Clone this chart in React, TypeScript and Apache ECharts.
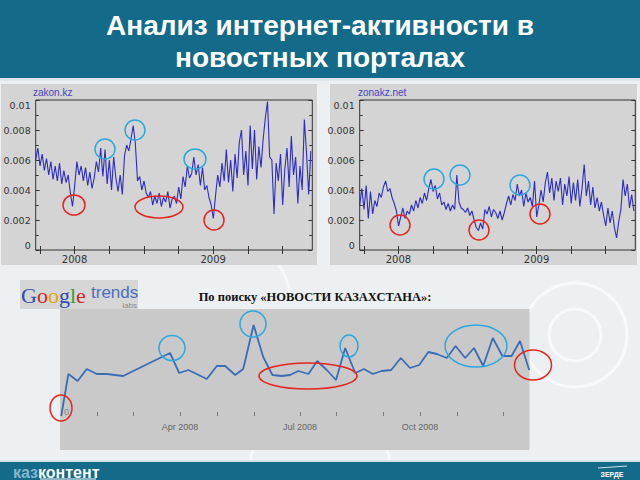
import React, { useEffect, useRef } from 'react';
import * as echarts from 'echarts';

// ---------- texts ----------
const TITLE_LINES = ['Анализ интернет-активности в', 'новостных порталах'];
const SUBTITLE = 'По поиску «НОВОСТИ КАЗАХСТАНА»:';
const SITE_NAMES = ['zakon.kz', 'zonakz.net'];

// ---------- top charts (share of searches, in thousandths) ----------
const YEAR_START = 2007.72;
const YEAR_END = 2009.715;
const SAMPLE_STEP = 1 / 64; // spacing of samples, in years
const YEAR_LABELS = [2008, 2009];
const QUARTER_TICKS = [2007.75, 2008, 2008.25, 2008.5, 2008.75, 2009, 2009.25, 2009.5];

const ZAKON_KZ = [
  6.0, 6.8, 5.6, 6.4, 5.3, 6.1, 5.0, 5.9, 4.7, 5.6,
  4.6, 5.8, 4.4, 5.3, 4.5, 5.0, 3.8, 2.9, 4.3, 5.9,
  5.0, 5.6, 4.6, 5.5, 4.3, 5.2, 4.1, 4.8, 5.9, 5.2,
  6.8, 4.9, 6.7, 4.4, 6.0, 4.0, 6.2, 4.8, 3.9, 5.0,
  3.7, 6.3, 7.0, 6.6, 7.4, 8.3, 7.1, 4.6, 4.9, 4.0,
  4.6, 3.8, 3.5, 3.9, 3.0, 3.6, 3.1, 3.8, 2.9, 3.5,
  3.2, 3.9, 2.8, 3.4, 3.6, 3.1, 4.2, 3.4, 4.9, 4.2,
  5.6, 4.8, 5.1, 6.2, 5.0, 5.7, 4.3, 5.5, 4.0, 4.3,
  3.5, 3.0, 2.1, 3.6, 5.0, 4.2, 5.8, 4.6, 6.7, 4.5,
  6.0, 3.9, 6.4, 4.8, 7.2, 8.0, 5.0, 6.6, 4.3, 8.3,
  5.4, 8.0, 4.7, 6.9, 5.5, 7.4, 8.8, 9.9, 6.2, 6.0,
  2.4, 5.8, 4.6, 6.4, 3.0, 5.4, 6.8, 4.2, 7.6, 5.0,
  6.2, 3.1, 5.6, 4.0, 8.7, 6.5, 3.7, 6.6,
];

const ZONAKZ_NET = [
  3.0, 4.1, 2.7, 4.3, 2.1, 3.9, 2.4, 3.3, 2.9, 3.8,
  3.5, 4.2, 4.6, 3.9, 4.1, 3.5, 3.1, 2.6, 1.6, 2.2,
  2.8, 2.1, 2.6, 2.4, 3.0, 2.6, 3.3, 2.8, 3.5, 3.1,
  3.8, 3.3, 4.1, 4.7, 3.9, 4.3, 3.4, 3.8, 3.0, 3.2,
  2.7, 3.1, 2.6, 3.0, 2.7, 5.0, 3.2, 2.8, 2.7, 2.5,
  2.8, 2.3, 2.6, 2.0, 1.5, 1.3, 1.8, 1.4, 2.7, 2.4,
  2.9, 2.2, 2.7, 2.5, 2.1, 2.6, 2.0, 2.5, 3.1, 3.6,
  3.0, 3.7, 3.3, 4.4, 3.6, 4.0, 2.9, 3.8, 3.2, 3.5,
  2.9, 4.6, 2.2, 3.0, 4.0, 3.2, 4.5, 5.2, 3.8, 4.8,
  3.3, 4.6, 3.9, 4.8, 3.0, 4.4, 3.6, 4.9, 3.1, 4.5,
  3.3, 4.7, 2.9, 4.1, 5.7, 3.6, 4.6, 3.0, 4.2, 2.8,
  3.5, 2.6, 3.2, 2.3, 1.6, 2.8, 1.8, 2.6, 1.5, 0.8,
  1.9, 2.7, 4.7, 3.6, 4.4, 2.8, 3.7, 2.6,
];

// ---------- Google Trends chart (months since Jan 2008, relative volume) ----------
const TRENDS_MONTH = [
  0.03, 0.21, 0.44, 0.67, 0.92, 1.17, 1.58, 2.75, 2.98, 3.21,
  3.67, 3.92, 4.13, 4.38, 4.58, 4.84, 5.08, 5.31, 5.54, 5.75,
  5.96, 6.21, 6.43, 6.67, 6.9, 7.13, 7.38, 7.6, 7.82, 8.04,
  8.28, 8.52, 8.75, 8.98, 9.21, 9.42, 9.67, 9.89, 10.13, 10.35,
  10.58, 10.82, 11.06, 11.29, 11.5, 11.73,
];
const TRENDS_VALUE = [
  0, 42, 35, 47, 42, 42, 40, 63, 43, 46,
  37, 50, 50, 41, 47, 91, 59, 41, 40, 41,
  45, 42, 55, 46, 36, 68, 43, 47, 42, 45,
  46, 58, 48, 51, 64, 62, 58, 70, 58, 68,
  50, 78, 60, 60, 75, 46,
];
const TRENDS_TICKS = [0.93, 1.83, 3, 3.93, 4.85, 6, 6.9, 8.08, 9, 9.93, 11.08];
const TRENDS_LABEL_AT = [3, 6, 9];
const TRENDS_LABELS = ['Apr 2008', 'Jul 2008', 'Oct 2008'];

const TEAL = '#136a89';
const RED = '#e5251f';
const CYAN = '#2fa8de';

function yearAxis(gridIndex: number, position: string, showLabel: boolean) {
  return {
    type: 'value',
    gridIndex,
    position,
    min: YEAR_START,
    max: YEAR_END,
    z: 1,
    axisLine: { show: false },
    splitLine: { show: false },
    axisTick: {
      show: true,
      inside: true,
      length: 4,
      customValues: QUARTER_TICKS,
      lineStyle: { color: '#333', width: 1 },
    },
    axisLabel: {
      show: showLabel,
      customValues: YEAR_LABELS,
      formatter: (v: number) => String(Math.round(v)),
      color: '#333',
      fontSize: 10,
      margin: 4,
      fontFamily: 'DejaVu Sans',
    },
  };
}

function shareAxis(gridIndex: number, position: string, showLabel: boolean) {
  return {
    type: 'value',
    gridIndex,
    position,
    min: 0,
    max: 10,
    interval: 2,
    z: 1,
    axisLine: { show: false },
    splitLine: { show: false },
    axisTick: { show: true, inside: true, length: 4, lineStyle: { color: '#333' } },
    minorTick: { show: true, splitNumber: 2, length: 3, lineStyle: { color: '#333' } },
    axisLabel: {
      show: showLabel,
      formatter: (v: number) => (v === 0 ? '0' : String(v / 1000)),
      color: '#333',
      fontSize: 9.5,
      margin: 5,
      fontFamily: 'DejaVu Sans',
      verticalAlignMinLabel: 'bottom',
      verticalAlignMaxLabel: 'top',
    },
  };
}

function ell(cx: number, cy: number, rx: number, ry: number, color: string) {
  return {
    type: 'ellipse',
    z: 20,
    shape: { cx, cy, rx, ry },
    style: { fill: 'none', stroke: color, lineWidth: 1.5 },
    silent: true,
  };
}

export default function App() {
  const ref = useRef<HTMLDivElement>(null);

  useEffect(() => {
    if (!ref.current) return;
    const chart = echarts.init(ref.current, null, { renderer: 'svg' });

    const elements: any[] = [
      // swirls in background
      { type: 'circle', z: 0, shape: { cx: 575, cy: 335, r: 52 }, style: { fill: 'none', stroke: '#ffffff', lineWidth: 3, opacity: 0.6 } },
      { type: 'circle', z: 0, shape: { cx: 575, cy: 335, r: 26 }, style: { fill: 'none', stroke: '#ffffff', lineWidth: 3, opacity: 0.6 } },
      { type: 'arc', z: 0, shape: { cx: 320, cy: 470, r: 70, startAngle: Math.PI, endAngle: Math.PI * 2 }, style: { fill: 'none', stroke: '#ffffff', lineWidth: 3, opacity: 0.5 } },
      { type: 'arc', z: 0, shape: { cx: 230, cy: 300, r: 60, startAngle: -Math.PI / 2, endAngle: 0 }, style: { fill: 'none', stroke: '#ffffff', lineWidth: 3, opacity: 0.5 } },
      // title banner
      { type: 'rect', z: 0, shape: { x: 0, y: 0, width: 640, height: 78 }, style: { fill: TEAL } },
      { type: 'rect', z: 0, shape: { x: 0, y: 78, width: 640, height: 3 }, style: { fill: '#dde6ea' } },
      {
        type: 'text', z: 10, x: 320, y: 25,
        style: { text: TITLE_LINES[0], fill: '#ffffff', font: 'bold 28px "Liberation Sans", Arial, sans-serif', align: 'center', verticalAlign: 'middle' },
      },
      {
        type: 'text', z: 10, x: 320, y: 57,
        style: { text: TITLE_LINES[1], fill: '#ffffff', font: 'bold 28px "Liberation Sans", Arial, sans-serif', align: 'center', verticalAlign: 'middle' },
      },
      // chart panels
      { type: 'rect', z: 0, shape: { x: 1, y: 84, width: 316, height: 181 }, style: { fill: '#d4d4d4' } },
      { type: 'rect', z: 0, shape: { x: 330, y: 84, width: 307, height: 181 }, style: { fill: '#d4d4d4' } },
      { type: 'rect', z: 0, shape: { x: 60, y: 309, width: 469.5, height: 141 }, style: { fill: '#c9c9c9' } },
      {
        type: 'text', z: 10, x: 33, y: 92,
        style: { text: SITE_NAMES[0], fill: '#4646c0', font: '10px "Liberation Sans", Arial, sans-serif', verticalAlign: 'middle' },
      },
      {
        type: 'text', z: 10, x: 358, y: 92,
        style: { text: SITE_NAMES[1], fill: '#4646c0', font: '10px "Liberation Sans", Arial, sans-serif', verticalAlign: 'middle' },
      },
      // Google Trends logo
      { type: 'rect', z: 0, shape: { x: 20, y: 280, width: 118, height: 29 }, style: { fill: '#d6d6d6' } },
      {
        type: 'text', z: 10, x: 21, y: 295,
        style: {
          text: '{b|G}{r|o}{y|o}{b|g}{g|l}{r|e}',
          verticalAlign: 'middle',
          rich: {
            b: { fill: '#2d4db3', font: '22px "Liberation Serif", serif' },
            r: { fill: '#cf2a1f', font: '22px "Liberation Serif", serif' },
            y: { fill: '#e0a800', font: '22px "Liberation Serif", serif' },
            g: { fill: '#3a9a3a', font: '22px "Liberation Serif", serif' },
          },
        },
      },
      {
        type: 'text', z: 10, x: 91, y: 292,
        style: { text: 'trends', fill: '#4b6fc0', font: '17px "Liberation Sans", Arial, sans-serif', verticalAlign: 'middle' },
      },
      {
        type: 'text', z: 10, x: 137, y: 305,
        style: { text: 'labs', fill: '#8a8a8a', font: '8px "Liberation Sans", Arial, sans-serif', align: 'right', verticalAlign: 'middle' },
      },
      {
        type: 'text', z: 10, x: 315, y: 297,
        style: { text: SUBTITLE, fill: '#111111', font: 'bold 12.5px "Liberation Serif", "Times New Roman", serif', align: 'center', verticalAlign: 'middle' },
      },
      // footer
      { type: 'rect', z: 0, shape: { x: 0, y: 460, width: 640, height: 2 }, style: { fill: '#d3e1e8' } },
      { type: 'rect', z: 0, shape: { x: 0, y: 462, width: 640, height: 18 }, style: { fill: TEAL } },
      {
        type: 'text', z: 10, x: 13, y: 472,
        style: {
          text: '{a|каз}{b|контент}',
          verticalAlign: 'middle',
          rich: {
            a: { fill: '#86b6d0', font: 'bold 16px "Liberation Sans Narrow", "Liberation Sans", sans-serif' },
            b: { fill: '#ffffff', font: 'bold 16px "Liberation Sans Narrow", "Liberation Sans", sans-serif' },
          },
        },
      },
      { type: 'line', z: 10, shape: { x1: 40, y1: 479, x2: 96, y2: 479 }, style: { stroke: '#ffffff', lineWidth: 1 } },
      { type: 'line', z: 10, shape: { x1: 598, y1: 468, x2: 627, y2: 466 }, style: { stroke: '#cfe3ec', lineWidth: 1 } },
      {
        type: 'text', z: 10, x: 612, y: 474,
        style: { text: 'ЗЕРДЕ', fill: '#ffffff', font: 'bold 7px "Liberation Sans", sans-serif', align: 'center', verticalAlign: 'middle' },
      },
      // annotations: top-left
      ell(74, 205, 11, 10, RED),
      ell(159, 207, 24, 11, RED),
      ell(214, 220, 10, 10, RED),
      ell(105, 149, 10, 10, CYAN),
      ell(135, 130, 10, 10, CYAN),
      ell(195, 159, 11, 10, CYAN),
      // annotations: top-right
      ell(400, 225, 10, 10, RED),
      ell(479, 230, 10, 10, RED),
      ell(540, 214, 10, 10, RED),
      ell(434, 179, 10, 10, CYAN),
      ell(460, 175, 10, 10, CYAN),
      ell(520, 185, 10, 10, CYAN),
      // annotations: bottom
      ell(61, 408, 11, 13, RED),
      ell(308, 376, 49, 13, RED),
      ell(533, 365, 18.5, 15, RED),
      ell(172, 348, 13, 12.5, CYAN),
      ell(253, 324, 13, 13, CYAN),
      ell(349, 346, 9, 11, CYAN),
      ell(476, 346, 31, 21, CYAN),
    ];

    const option: any = {
      animation: false,
      backgroundColor: '#edf0f2',
      textStyle: { fontFamily: '"Liberation Sans", Arial, sans-serif' },
      grid: [
        { left: 35.7, top: 100, width: 276.6, height: 150, show: true, borderColor: '#333', borderWidth: 1, backgroundColor: 'transparent', z: 1 },
        { left: 359.7, top: 100, width: 275.6, height: 150, show: true, borderColor: '#333', borderWidth: 1, backgroundColor: 'transparent', z: 1 },
        { left: 60, top: 316, width: 469.2, height: 100, show: false },
      ],
      xAxis: [
        yearAxis(0, 'bottom', true),
        yearAxis(0, 'top', false),
        yearAxis(1, 'bottom', true),
        yearAxis(1, 'top', false),
        {
          type: 'value',
          gridIndex: 2,
          min: 0,
          max: 11.73,
          z: 1,
          axisLine: { show: false },
          splitLine: { show: false },
          axisTick: { show: true, inside: true, length: 4, customValues: TRENDS_TICKS, lineStyle: { color: '#777' } },
          axisLabel: {
            customValues: TRENDS_LABEL_AT,
            formatter: (v: number) => TRENDS_LABELS[TRENDS_LABEL_AT.indexOf(Math.round(v))] || '',
            color: '#666',
            fontSize: 9,
            margin: 6,
          },
        },
      ],
      yAxis: [
        shareAxis(0, 'left', true),
        shareAxis(0, 'right', false),
        shareAxis(1, 'left', true),
        shareAxis(1, 'right', false),
        {
          type: 'value',
          gridIndex: 2,
          min: 0,
          max: 100,
          z: 1,
          axisLine: { show: false },
          axisTick: { show: false },
          splitLine: { show: false },
          axisLabel: { inside: true, customValues: [0], color: '#888', fontSize: 9, margin: 4, verticalAlign: 'bottom' },
        },
      ],
      series: [
        {
          name: SITE_NAMES[0],
          type: 'line',
          xAxisIndex: 0,
          yAxisIndex: 0,
          data: ZAKON_KZ.map((v, i) => [YEAR_START + i * SAMPLE_STEP, v]),
          symbol: 'none',
          lineStyle: { color: '#2c2cc2', width: 1.1 },
          silent: true,
        },
        {
          name: SITE_NAMES[1],
          type: 'line',
          xAxisIndex: 2,
          yAxisIndex: 2,
          data: ZONAKZ_NET.map((v, i) => [YEAR_START + i * SAMPLE_STEP, v]),
          symbol: 'none',
          lineStyle: { color: '#2c2cc2', width: 1.1 },
          silent: true,
        },
        {
          name: 'google',
          type: 'line',
          xAxisIndex: 4,
          yAxisIndex: 4,
          data: TRENDS_MONTH.map((m, i) => [m, TRENDS_VALUE[i]]),
          symbol: 'none',
          lineStyle: { color: '#3b6db6', width: 1.8 },
          silent: true,
        },
      ],
      graphic: { elements },
    };

    chart.setOption(option);
    return () => chart.dispose();
  }, []);

  return (
    <div
      ref={ref}
      style={{ position: 'fixed', left: 0, top: 0, width: 640, height: 480 }}
    />
  );
}
